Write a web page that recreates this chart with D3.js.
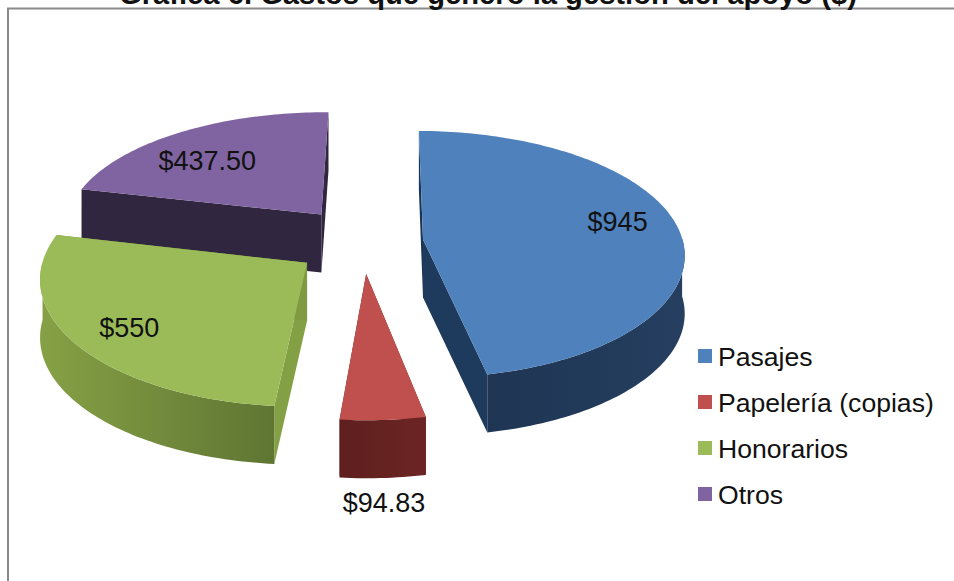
<!DOCTYPE html>
<html><head><meta charset="utf-8">
<script src="https://cdn.jsdelivr.net/npm/d3@7/dist/d3.min.js"></script>
<style>html,body{margin:0;padding:0;background:#fff;overflow:hidden}svg{display:block}text{font-family:"Liberation Sans",Arial,sans-serif;fill:#111}</style>
</head><body><svg id="c" width="954" height="581"></svg>
<script>
const categories = ["Pasajes","Papelería (copias)","Honorarios","Otros"];
const values = [945,94.83,550,437.5];
const valueLabels = ["$945","$94.83","$550","$437.50"];
const chartTitle = "Gráfica 6. Gastos que generó la gestión del apoyo ($)";
const topColors = ["#4f81bd","#c0504d","#9bbb59","#8064a2"];
const wallStops = [["#263f60","#1e3553"],["#6c2524","#5e1f1e"],["#86a145","#5f7533"],["#30263f","#30263f"]];
const cutColors = [["#1b3655","#1e3a5c"],["#6c2524","#6c2524"],["#84a044","#7f9a42"],["#30263f","#30263f"]];
const explode = [0.217,0.25,0.28,0.29];
const explodeTurn = [0,4,0,0];
const labelOffsets = [[3,-8],[1,0],[10,0],[-11,8]];

const vx=367, cy=242, R=260, B=124, Py=0.12, Px=0.11, depth=58, rot=0.5*Math.PI/180;
const svg=d3.select("#c"), defs=svg.append("defs");
const proj=(X,Y,dz=0)=>[vx+X*R*(1+Px*Y), cy+Y*B*(1+Py*Y)+dz];
const line=d3.line();
const arcs=d3.pie().sort(null).value(d=>d).startAngle(rot).endAngle(2*Math.PI+rot)(values);

svg.append("rect").attr("x",8).attr("y",8.5).attr("width",960).attr("height",600).attr("fill","#fff").attr("stroke","#8a8a8a").attr("stroke-width",2);
svg.append("text").attr("x",488).attr("y",4).attr("text-anchor","middle").attr("font-size",29.2).attr("font-weight","bold").text(chartTitle);

const slices=arcs.map((a,i)=>{
  const mid=(a.startAngle+a.endAngle)/2, dir=mid+explodeTurn[i]*Math.PI/180;
  const ox=explode[i]*Math.sin(dir), oy=-explode[i]*Math.cos(dir);
  const pt=(t,r=1)=>[ox+r*Math.sin(t), oy-r*Math.cos(t)];
  const n=Math.ceil((a.endAngle-a.startAngle)/0.02);
  const ts=d3.range(n+1).map(k=>a.startAngle+(a.endAngle-a.startAngle)*k/n);
  return {i,a,mid,ox,oy,pt,ts};
});

[3,0,2,1].forEach(i=>{
  const s=slices[i], g=svg.append("g");
  const apex=[s.ox,s.oy];
  const rim=s.ts.map(t=>s.pt(t));
  const face=(A,C,col)=>{const p=[proj(...A),proj(...C),proj(...C,depth),proj(...A,depth)];
    g.append("path").attr("d",line(p)+"Z").attr("fill",col);};
  face(apex,s.pt(s.a.startAngle),cutColors[i][0]);
  face(apex,s.pt(s.a.endAngle),cutColors[i][1]);
  const near=s.ts.filter(t=>Math.cos(t)<0.02);
  if(near.length>1){
    const top=near.map(t=>proj(...s.pt(t))), bot=near.map(t=>proj(...s.pt(t),depth)).reverse();
    const ext=d3.extent(top,d=>d[0]), id="w"+i;
    const lg=defs.append("linearGradient").attr("id",id).attr("gradientUnits","userSpaceOnUse")
      .attr("x1",i===2?ext[0]:ext[1]).attr("x2",i===2?ext[1]:ext[0]).attr("y1",0).attr("y2",0);
    lg.append("stop").attr("offset",0).attr("stop-color",wallStops[i][0]);
    lg.append("stop").attr("offset",1).attr("stop-color",wallStops[i][1]);
    g.append("path").attr("d",line(top.concat(bot))+"Z").attr("fill",`url(#${id})`);
  }
  const topFace=[proj(...apex)].concat(rim.map(p=>proj(...p)));
  g.append("path").attr("d",line(topFace)+"Z").attr("fill",topColors[i]);
});

const labelFont=27;
slices.forEach((s,i)=>{
  const f=[0.75,1.0,0.82,0.72][i];
  const p=proj(s.ox+f*Math.sin(s.mid),s.oy-f*Math.cos(s.mid),i===1?depth+25:0);
  svg.append("text").attr("x",p[0]+labelOffsets[i][0]).attr("y",p[1]+labelOffsets[i][1]).attr("text-anchor","middle").attr("dominant-baseline","central").attr("font-size",labelFont).text(valueLabels[i]);
});

const ly=d3.scalePoint().domain(categories).range([356,494]);
categories.forEach((c,i)=>{
  svg.append("rect").attr("x",698).attr("y",ly(c)-7).attr("width",14).attr("height",14).attr("fill",topColors[i]);
  svg.append("text").attr("x",718).attr("y",ly(c)+1).attr("dominant-baseline","central").attr("font-size",26.6).text(c);
});
</script></body></html>
